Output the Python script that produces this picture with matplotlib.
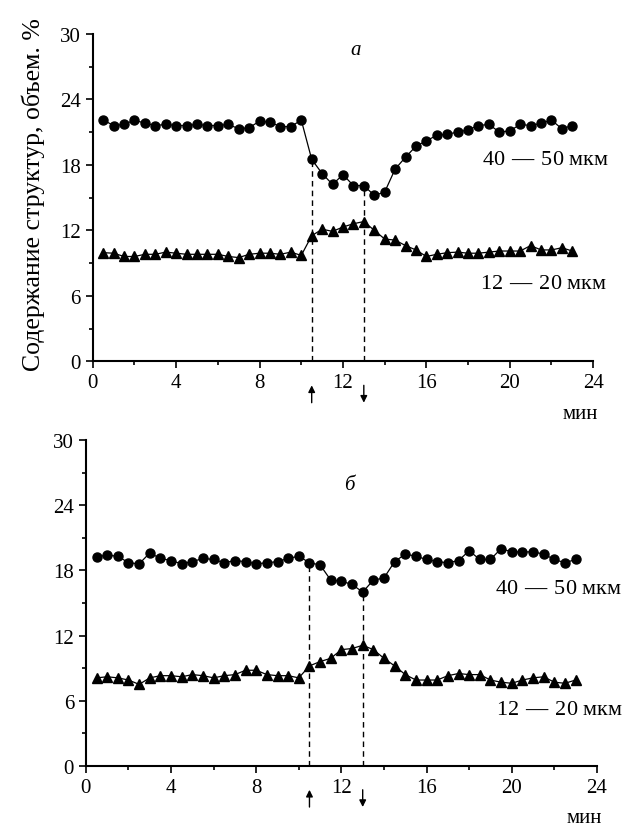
import matplotlib
matplotlib.use('Agg')
import matplotlib.pyplot as plt
from matplotlib.ticker import MultipleLocator

# время, мин
t = [0.5 * i for i in range(1, 47)]

# панель а
a_big = [22.1, 21.6, 21.7, 22.1, 21.8, 21.6, 21.7, 21.6, 21.6, 21.7,
         21.6, 21.6, 21.7, 21.3, 21.4, 22.0, 21.9, 21.5, 21.5, 22.1,
         18.5, 17.2, 16.2, 17.1, 16.1, 16.1, 15.2, 15.5, 17.6, 18.7,
         19.7, 20.2, 20.7, 20.8, 21.0, 21.2, 21.6, 21.7, 21.0, 21.1,
         21.7, 21.6, 21.8, 22.1, 21.3, 21.6]
a_small = [9.95, 9.9, 9.6, 9.6, 9.8, 9.8, 10.0, 9.9, 9.8, 9.8,
           9.8, 9.8, 9.6, 9.5, 9.8, 9.9, 9.9, 9.8, 10.0, 9.7,
           11.5, 12.1, 11.9, 12.3, 12.6, 12.8, 12.0, 11.2, 11.1, 10.6,
           10.2, 9.6, 9.8, 9.95, 10.0, 9.9, 9.9, 10.0, 10.1, 10.1,
           10.1, 10.6, 10.2, 10.2, 10.4, 10.1]

# панель б
b_big = [19.25, 19.4, 19.3, 18.7, 18.6, 19.6, 19.1, 18.9, 18.6, 18.8,
         19.1, 19.0, 18.7, 18.9, 18.8, 18.6, 18.7, 18.8, 19.1, 19.3,
         18.7, 18.5, 17.1, 17.0, 16.7, 16.0, 17.1, 17.3, 18.8, 19.5,
         19.3, 19.0, 18.8, 18.7, 18.9, 19.8, 19.0, 19.0, 20.0, 19.7,
         19.7, 19.7, 19.5, 19.0, 18.7, 19.0]
b_small = [8.1, 8.2, 8.1, 7.9, 7.5, 8.1, 8.3, 8.3, 8.2, 8.4,
           8.3, 8.1, 8.3, 8.4, 8.8, 8.8, 8.4, 8.3, 8.3, 8.1,
           9.2, 9.6, 9.9, 10.7, 10.8, 11.1, 10.7, 9.9, 9.2, 8.4,
           7.9, 7.9, 7.9, 8.3, 8.5, 8.4, 8.4, 7.9, 7.7, 7.6,
           7.9, 8.1, 8.2, 7.7, 7.6, 7.9]

t_on = 10.5   # включение
t_off = 13.0  # выключение

plt.rcParams['font.family'] = ['Liberation Serif', 'DejaVu Serif']
plt.rcParams['mathtext.fontset'] = 'custom'
plt.rcParams['mathtext.bf'] = 'Liberation Serif:bold'
plt.rcParams['mathtext.rm'] = 'Liberation Serif'

fig = plt.figure(figsize=(6.27, 8.29), dpi=100)
ax1 = fig.add_axes([0.148, 0.563, 0.798, 0.395])
ax2 = fig.add_axes([0.137, 0.075, 0.815, 0.393])

DASH = r'$\ \mathbf{—}\ $'


def draw(ax, big, small, letter, lbl_big, lbl_small, letter_pos):
    ax.plot(t, big, '-', color='black', lw=0.9, marker='o', ms=6.5)
    ax.plot(t, small, '-', color='black', lw=0.9, marker='^', ms=7)
    # пунктир до точек включения / выключения
    for tx in (t_on, t_off):
        yv = big[t.index(tx)]
        ax.vlines(tx, 0, yv, colors='black', linestyles=(0, (4, 3)), lw=1)
    ax.set_xlim(0, 24)
    ax.set_ylim(0, 30)
    ax.xaxis.set_major_locator(MultipleLocator(4))
    ax.xaxis.set_minor_locator(MultipleLocator(2))
    ax.yaxis.set_major_locator(MultipleLocator(6))
    ax.yaxis.set_minor_locator(MultipleLocator(3))
    ax.tick_params(which='major', direction='out', length=5, width=1.2,
                   labelsize=15)
    ax.tick_params(which='minor', direction='out', length=3, width=1.2)
    for s in ('top', 'right'):
        ax.spines[s].set_visible(False)
    for s in ('left', 'bottom'):
        ax.spines[s].set_linewidth(1.5)
    ax.text(*lbl_big, '40' + DASH + '50 мкм', fontsize=16,
            ha='center', va='center')
    ax.text(*lbl_small, '12' + DASH + '20 мкм', fontsize=16,
            ha='center', va='center')
    ax.text(*letter_pos, letter, fontsize=15, style='italic',
            ha='center', va='center')
    ax.text(0.975, -0.16, 'мин', transform=ax.transAxes, fontsize=15,
            ha='center', va='center')
    # стрелки под осью
    tr = ax.get_xaxis_transform()
    ax.annotate('', xy=(t_on, -0.065), xytext=(t_on, -0.135), xycoords=tr,
                textcoords=tr, annotation_clip=False,
                arrowprops=dict(arrowstyle='-|>', color='black', lw=1,
                                mutation_scale=10))
    ax.annotate('', xy=(t_off, -0.135), xytext=(t_off, -0.065), xycoords=tr,
                textcoords=tr, annotation_clip=False,
                arrowprops=dict(arrowstyle='-|>', color='black', lw=1,
                                mutation_scale=10))


draw(ax1, a_big, a_small, 'а', (21.7, 18.5), (21.6, 7.1), (12.6, 28.6))
draw(ax2, b_big, b_small, 'б', (22.2, 16.3), (22.25, 5.15), (12.35, 25.9))

fig.text(0.053, 0.765, 'Содержание структур, объем. %', rotation=90,
         fontsize=18.5, ha='center', va='center')

fig.savefig('out.png', dpi=100)
